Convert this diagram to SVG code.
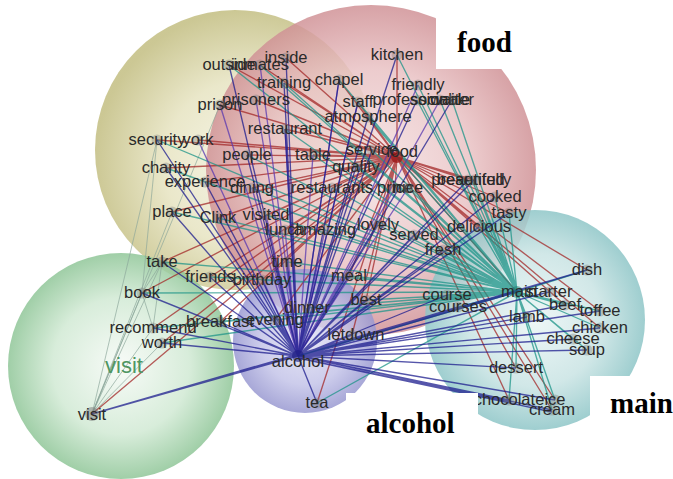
<svg xmlns="http://www.w3.org/2000/svg" width="673" height="479" viewBox="0 0 673 479">
<defs>
<radialGradient id="gY" cx="55%" cy="55%" r="55%"><stop offset="0" stop-color="#f5f4e4"/><stop offset="0.55" stop-color="#e6e3c0"/><stop offset="1" stop-color="#c2bd80"/></radialGradient>
<radialGradient id="gR" cx="50%" cy="50%" r="55%"><stop offset="0" stop-color="#f4e2e2"/><stop offset="0.55" stop-color="#e9c2c4"/><stop offset="1" stop-color="#c98489"/></radialGradient>
<radialGradient id="gT" cx="50%" cy="50%" r="55%"><stop offset="0" stop-color="#eaf5f5"/><stop offset="0.55" stop-color="#c8e3e3"/><stop offset="1" stop-color="#7dbdbf"/></radialGradient>
<radialGradient id="gG" cx="50%" cy="50%" r="55%"><stop offset="0" stop-color="#f6faf6"/><stop offset="0.55" stop-color="#d0e9d3"/><stop offset="1" stop-color="#7dbc87"/></radialGradient>
<radialGradient id="gP" cx="50%" cy="50%" r="55%"><stop offset="0" stop-color="#e2e2f4"/><stop offset="0.55" stop-color="#c3c3e8"/><stop offset="1" stop-color="#8c8cca"/></radialGradient>
</defs>
<style>
.cl{fill-opacity:0.84}
.e{fill:none;stroke-width:1.35;stroke-opacity:0.75}
.nv{stroke:#1c1c8e}
.vi{stroke:#5a38b0}
.rd{stroke:#a32828}
.tl{stroke:#1d9488}
.gy{stroke:#8aa69a;stroke-width:0.9}
.nd{fill:#777;fill-opacity:0.35}
.lb{font-family:"Liberation Sans",Arial,sans-serif;font-size:16.5px;fill:#2a2a2a;text-anchor:middle}
.tt{font-family:"Liberation Serif","Times New Roman",serif;font-size:29px;font-weight:bold;fill:#000}
</style>
<rect width="673" height="479" fill="#fff"/>
<g id="clusters">
<circle class="cl" cx="235" cy="150" r="140" fill="url(#gY)"/>
<circle class="cl" cx="371" cy="170" r="165" fill="url(#gR)"/>
<circle class="cl" cx="535" cy="320" r="110" fill="url(#gT)"/>
<circle class="cl" cx="121" cy="366" r="113" fill="url(#gG)"/>
<circle class="cl" cx="305" cy="341" r="72" fill="url(#gP)"/>
</g>
<g id="connectors">
<path class="e gy" d="M92 414L142 293M92 414L162 262M92 414L153 328M92 414L162 343M92 414L157 140M92 414L220 105M92 414L172 212M142 293L162 262M162 262L153 328M142 293L153 328M157 140L142 293"/>
<path class="e rd" d="M397 157L157 140M397 157L198 140M397 157L247 155M397 157L313 155M397 157L166 168M397 157L205 182M397 157L252 188M397 157L285 129M397 157L220 105M397 157L229 65M397 157L286 58M397 157L284 83M397 157L260 65M397 157L339 80M397 157L358 102M397 157L397 55M397 157L368 117M397 157L474 180M397 157L468 180M397 157L495 197M397 157L509 213M397 157L479 227M397 157L587 270M397 157L565 305M397 157L600 311M397 157L600 328M397 157L509 400M397 157L552 410M397 157L516 368M397 157L555 400M397 157L517 292M397 157L162 262M397 157L142 293M397 157L153 328M397 157L92 414M397 157L162 343M397 157L210 277M397 157L220 322M397 157L275 320M397 157L262 280M397 157L366 300M397 157L349 276M397 157L352 335M397 157L317 403M397 157L172 212M397 157L218 218M397 157L266 215M397 157L285 230M397 157L332 188M397 157L395 188M397 157L256 100"/>
<path class="e tl" d="M517 292L447 295M517 292L458 307M517 292L587 270M517 292L565 305M517 292L600 311M517 292L527 317M517 292L600 328M517 292L573 339M517 292L587 350M517 292L516 368M517 292L509 400M517 292L552 410M517 292L555 400M517 292L495 197M517 292L509 213M517 292L479 227M517 292L474 180M517 292L468 180M517 292L414 235M517 292L378 225M517 292L443 250M517 292L418 85M517 292L417 100M517 292L440 100M517 292L452 100M517 292L358 102M517 292L368 117M517 292L372 150M517 292L397 55M517 292L339 80M517 292L284 83M517 292L260 65M517 292L229 65M517 292L285 129M517 292L247 155M517 292L205 182M517 292L157 140M517 292L142 293M517 292L162 262M517 292L210 277M517 292L262 280M517 292L220 322M517 292L275 320M517 292L349 276M517 292L366 300M517 292L307 308M517 292L162 343M517 292L153 328M517 292L298 356M517 292L317 403M517 292L397 157M517 292L356 167M517 292L332 188M517 292L408 188M517 292L325 230M517 292L266 215M517 292L218 218M517 292L172 212M517 292L166 168M517 292L252 188M517 292L313 155M517 292L287 262"/>
<path class="e vi" d="M298 356L260 65M298 356L256 100M298 356L220 105M298 356L198 140M298 356L313 155M298 356L252 188M298 356L285 230M298 356L266 215M298 356L325 230M298 356L418 85M298 356L440 100M298 356L358 102M298 356L285 129M298 356L339 80M298 356L395 188M298 356L408 188"/>
<path class="e nv" d="M298 356L229 65M298 356L286 58M298 356L284 83M298 356L339 80M298 356L285 129M298 356L157 140M298 356L247 155M298 356L358 102M298 356L417 100M298 356L452 100M298 356L368 117M298 356L372 150M298 356L356 167M298 356L332 188M298 356L474 180M298 356L495 197M298 356L479 227M298 356L414 235M298 356L378 225M298 356L218 218M298 356L172 212M298 356L205 182M298 356L166 168M298 356L162 262M298 356L210 277M298 356L262 280M298 356L287 262M298 356L349 276M298 356L366 300M298 356L307 308M298 356L220 322M298 356L275 320M298 356L352 335M298 356L317 403M298 356L142 293M298 356L153 328M298 356L162 343M298 356L92 414M298 356L447 295M298 356L458 307M298 356L517 292M298 356L549 292M298 356L587 270M298 356L565 305M298 356L600 311M298 356L527 317M298 356L600 328M298 356L573 339M298 356L587 350M298 356L516 368M298 356L509 400M298 356L552 410M298 356L555 400M298 356L397 55M298 356L509 213M298 356L468 180M298 356L443 250M92 414L517 292M92 414L587 270M298 358L509 402M298 358L552 412"/>
</g>
<g id="nodes">
<g id="n-outside"><circle class="nd" cx="229" cy="65" r="5.5"/><text class="lb" x="229" y="70">outside</text></g>
<g id="n-inmates"><circle class="nd" cx="260" cy="65" r="5.5"/><text class="lb" x="260" y="70">inmates</text></g>
<g id="n-inside"><circle class="nd" cx="286" cy="58" r="5.5"/><text class="lb" x="286" y="63">inside</text></g>
<g id="n-training"><circle class="nd" cx="284" cy="83" r="5.5"/><text class="lb" x="284" y="88">training</text></g>
<g id="n-chapel"><circle class="nd" cx="339" cy="80" r="5.5"/><text class="lb" x="339" y="85">chapel</text></g>
<g id="n-prisoners"><circle class="nd" cx="256" cy="100" r="5.5"/><text class="lb" x="256" y="105">prisoners</text></g>
<g id="n-prison"><circle class="nd" cx="220" cy="105" r="5.5"/><text class="lb" x="220" y="110">prison</text></g>
<g id="n-restaurant"><circle class="nd" cx="285" cy="129" r="5.5"/><text class="lb" x="285" y="134">restaurant</text></g>
<g id="n-security"><circle class="nd" cx="157" cy="140" r="5.5"/><text class="lb" x="157" y="145">security</text></g>
<g id="n-york"><circle class="nd" cx="198" cy="140" r="5.5"/><text class="lb" x="198" y="145">york</text></g>
<g id="n-people"><circle class="nd" cx="247" cy="155" r="5.5"/><text class="lb" x="247" y="160">people</text></g>
<g id="n-table"><circle class="nd" cx="313" cy="155" r="5.5"/><text class="lb" x="313" y="160">table</text></g>
<g id="n-kitchen"><circle class="nd" cx="397" cy="55" r="5.5"/><text class="lb" x="397" y="60">kitchen</text></g>
<g id="n-friendly"><circle class="nd" cx="418" cy="85" r="5.5"/><text class="lb" x="418" y="90">friendly</text></g>
<g id="n-staff"><circle class="nd" cx="358" cy="102" r="5.5"/><text class="lb" x="358" y="107">staff</text></g>
<g id="n-professional"><circle class="nd" cx="417" cy="100" r="5.5"/><text class="lb" x="417" y="105">professional</text></g>
<g id="n-sociable"><circle class="nd" cx="440" cy="100" r="5.5"/><text class="lb" x="440" y="105">sociable</text></g>
<g id="n-waiter"><circle class="nd" cx="452" cy="100" r="5.5"/><text class="lb" x="452" y="105">waiter</text></g>
<g id="n-atmosphere"><circle class="nd" cx="368" cy="117" r="5.5"/><text class="lb" x="368" y="122">atmosphere</text></g>
<g id="n-service"><circle class="nd" cx="372" cy="150" r="5.5"/><text class="lb" x="372" y="155">service</text></g>
<g id="n-food"><circle cx="397" cy="157" r="6" fill="#9a1010" fill-opacity="0.7"/><text class="lb" x="402" y="157">food</text></g>
<g id="n-quality"><circle class="nd" cx="356" cy="167" r="5.5"/><text class="lb" x="356" y="172">quality</text></g>
<g id="n-restaurants"><circle class="nd" cx="332" cy="188" r="5.5"/><text class="lb" x="332" y="193">restaurants</text></g>
<g id="n-price"><circle class="nd" cx="395" cy="188" r="5.5"/><text class="lb" x="395" y="193">price</text></g>
<g id="n-nice"><circle class="nd" cx="408" cy="188" r="5.5"/><text class="lb" x="408" y="193">nice</text></g>
<g id="n-presented"><circle class="nd" cx="468" cy="180" r="5.5"/><text class="lb" x="468" y="185">presented</text></g>
<g id="n-beautifully"><circle class="nd" cx="474" cy="180" r="5.5"/><text class="lb" x="474" y="185">beautifully</text></g>
<g id="n-cooked"><circle class="nd" cx="495" cy="197" r="5.5"/><text class="lb" x="495" y="202">cooked</text></g>
<g id="n-tasty"><circle class="nd" cx="509" cy="213" r="5.5"/><text class="lb" x="509" y="218">tasty</text></g>
<g id="n-delicious"><circle class="nd" cx="479" cy="227" r="5.5"/><text class="lb" x="479" y="232">delicious</text></g>
<g id="n-served"><circle class="nd" cx="414" cy="235" r="5.5"/><text class="lb" x="414" y="240">served</text></g>
<g id="n-fresh"><circle class="nd" cx="443" cy="250" r="5.5"/><text class="lb" x="443" y="255">fresh</text></g>
<g id="n-lovely"><circle class="nd" cx="378" cy="225" r="5.5"/><text class="lb" x="378" y="230">lovely</text></g>
<g id="n-amazing"><circle class="nd" cx="325" cy="230" r="5.5"/><text class="lb" x="325" y="235">amazing</text></g>
<g id="n-lunch"><circle class="nd" cx="285" cy="230" r="5.5"/><text class="lb" x="285" y="235">lunch</text></g>
<g id="n-visited"><circle class="nd" cx="266" cy="215" r="5.5"/><text class="lb" x="266" y="220">visited</text></g>
<g id="n-clink"><circle class="nd" cx="218" cy="218" r="5.5"/><text class="lb" x="218" y="223">Clink</text></g>
<g id="n-place"><circle class="nd" cx="172" cy="212" r="5.5"/><text class="lb" x="172" y="217">place</text></g>
<g id="n-experience"><circle class="nd" cx="205" cy="182" r="5.5"/><text class="lb" x="205" y="187">experience</text></g>
<g id="n-dining"><circle class="nd" cx="252" cy="188" r="5.5"/><text class="lb" x="252" y="193">dining</text></g>
<g id="n-charity"><circle class="nd" cx="166" cy="168" r="5.5"/><text class="lb" x="166" y="173">charity</text></g>
<g id="n-take"><circle class="nd" cx="162" cy="262" r="5.5"/><text class="lb" x="162" y="267">take</text></g>
<g id="n-friends"><circle class="nd" cx="210" cy="277" r="5.5"/><text class="lb" x="210" y="282">friends</text></g>
<g id="n-birthday"><circle class="nd" cx="262" cy="280" r="5.5"/><text class="lb" x="262" y="285">birthday</text></g>
<g id="n-time"><circle class="nd" cx="287" cy="262" r="5.5"/><text class="lb" x="287" y="267">time</text></g>
<g id="n-meal"><circle class="nd" cx="349" cy="276" r="5.5"/><text class="lb" x="349" y="281">meal</text></g>
<g id="n-best"><circle class="nd" cx="366" cy="300" r="5.5"/><text class="lb" x="366" y="305">best</text></g>
<g id="n-dinner"><circle class="nd" cx="307" cy="308" r="5.5"/><text class="lb" x="307" y="313">dinner</text></g>
<g id="n-breakfast"><circle class="nd" cx="220" cy="322" r="5.5"/><text class="lb" x="220" y="327">breakfast</text></g>
<g id="n-evening"><circle class="nd" cx="275" cy="320" r="5.5"/><text class="lb" x="275" y="325">evening</text></g>
<g id="n-letdown"><circle class="nd" cx="352" cy="335" r="5.5"/><text class="lb" x="356" y="340">letdown</text></g>
<g id="n-alcohol"><circle cx="298" cy="356" r="6" fill="#1a1a80" fill-opacity="0.6"/><text class="lb" x="298" y="367">alcohol</text></g>
<g id="n-tea"><circle class="nd" cx="317" cy="403" r="5.5"/><text class="lb" x="317" y="408">tea</text></g>
<g id="n-book"><circle class="nd" cx="142" cy="293" r="5.5"/><text class="lb" x="142" y="298">book</text></g>
<g id="n-recommend"><circle class="nd" cx="153" cy="328" r="5.5"/><text class="lb" x="153" y="333">recommend</text></g>
<g id="n-worth"><circle class="nd" cx="162" cy="343" r="5.5"/><text class="lb" x="162" y="348">worth</text></g>
<g id="n-visit"><circle cx="92" cy="414" r="7" fill="#777" fill-opacity="0.5"/><text class="lb" x="92" y="420">visit</text></g>
<g id="n-course"><circle class="nd" cx="447" cy="295" r="5.5"/><text class="lb" x="447" y="300">course</text></g>
<g id="n-courses"><circle class="nd" cx="458" cy="307" r="5.5"/><text class="lb" x="458" y="312">courses</text></g>
<g id="n-main"><circle cx="517" cy="292" r="6" fill="#167a70" fill-opacity="0.5"/><text class="lb" x="519" y="297">main</text></g>
<g id="n-starter"><circle class="nd" cx="549" cy="292" r="5.5"/><text class="lb" x="549" y="297">starter</text></g>
<g id="n-dish"><circle class="nd" cx="587" cy="270" r="5.5"/><text class="lb" x="587" y="275">dish</text></g>
<g id="n-beef"><circle class="nd" cx="565" cy="305" r="5.5"/><text class="lb" x="565" y="310">beef</text></g>
<g id="n-toffee"><circle class="nd" cx="600" cy="311" r="5.5"/><text class="lb" x="600" y="316">toffee</text></g>
<g id="n-lamb"><circle class="nd" cx="527" cy="317" r="5.5"/><text class="lb" x="527" y="322">lamb</text></g>
<g id="n-chicken"><circle class="nd" cx="600" cy="328" r="5.5"/><text class="lb" x="600" y="333">chicken</text></g>
<g id="n-cheese"><circle class="nd" cx="573" cy="339" r="5.5"/><text class="lb" x="573" y="344">cheese</text></g>
<g id="n-soup"><circle class="nd" cx="587" cy="350" r="5.5"/><text class="lb" x="587" y="355">soup</text></g>
<g id="n-dessert"><circle class="nd" cx="516" cy="368" r="5.5"/><text class="lb" x="516" y="373">dessert</text></g>
<g id="n-chocolate"><circle class="nd" cx="509" cy="400" r="5.5"/><text class="lb" x="509" y="405">chocolate</text></g>
<g id="n-ice"><circle class="nd" cx="555" cy="400" r="5.5"/><text class="lb" x="555" y="405">ice</text></g>
<g id="n-cream"><circle class="nd" cx="552" cy="410" r="5.5"/><text class="lb" x="552" y="415">cream</text></g>
</g>
<g id="cluster-labels">
<text x="124" y="373" font-family="Liberation Sans, Arial, sans-serif" font-size="22" fill="#4f9662" text-anchor="middle">visit</text>
<g id="t-food"><rect x="436" y="10" width="120" height="59" fill="#fff"/><text class="tt" x="457" y="52">food</text></g>
<g id="t-alcohol"><rect x="346" y="393" width="132" height="86" fill="#fff"/><text class="tt" x="366" y="433">alcohol</text></g>
<g id="t-main"><rect x="590" y="376" width="83" height="103" fill="#fff"/><text class="tt" x="610" y="413">main</text></g>
</g>
</svg>
